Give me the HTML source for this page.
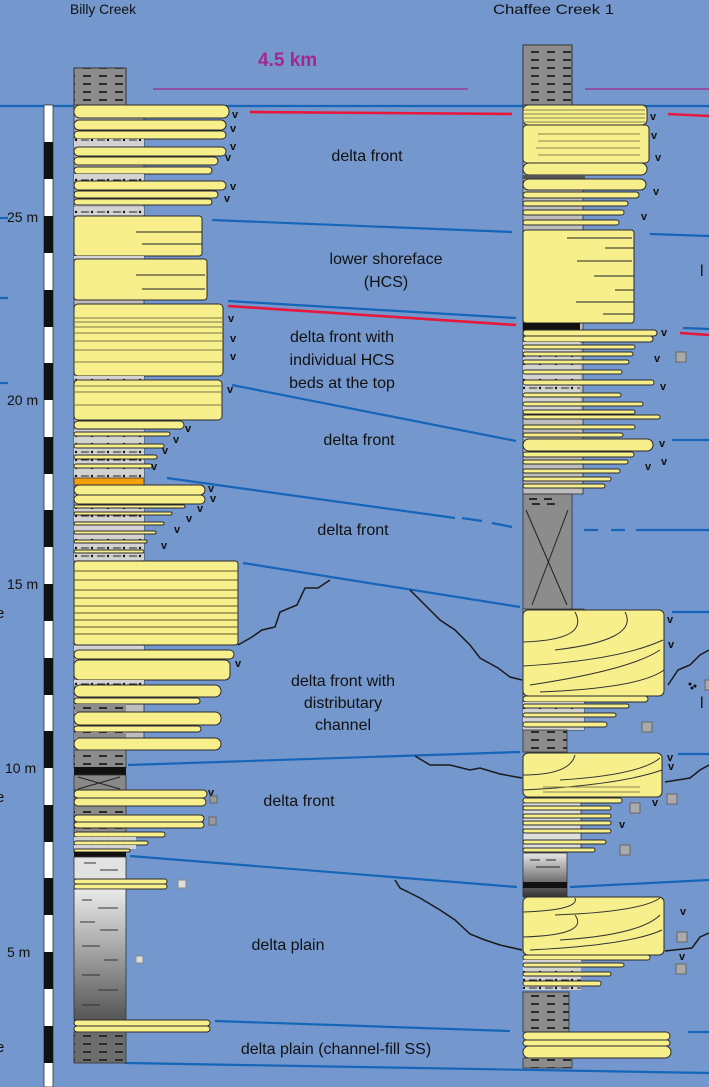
<!DOCTYPE html>
<html><head><meta charset="utf-8"><style>
html,body{margin:0;padding:0;background:#7497cd;}
svg{display:block}
text{font-family:"Liberation Sans",sans-serif;fill:#111}
.y{fill:#f7ef8c;stroke:#2a2a2a;stroke-width:1}
.b{stroke:#1565b8;stroke-width:2.2;fill:none}
.r{stroke:#e8173c;stroke-width:2.6;fill:none}
.k{stroke:#1a1a1a;stroke-width:1.5;fill:none}
.lbl{font-size:16px;text-anchor:middle}
.v{font-size:11px;font-weight:bold}
</style></head><body>
<svg width="709" height="1087" viewBox="0 0 709 1087" xmlns="http://www.w3.org/2000/svg">
<defs>
<pattern id="sh" width="16" height="8" patternUnits="userSpaceOnUse"><rect width="16" height="8" fill="#8c8c8c"/><line x1="3" y1="4" x2="11" y2="4" stroke="#111" stroke-width="1.6"/></pattern>
<pattern id="sl" width="16" height="8" patternUnits="userSpaceOnUse"><rect width="16" height="8" fill="#d2d2d2"/><line x1="1" y1="4" x2="9" y2="4" stroke="#222" stroke-width="1"/><circle cx="12" cy="4" r="1.2" fill="#111"/></pattern>
<linearGradient id="gg" x1="0" y1="0" x2="0" y2="1"><stop offset="0" stop-color="#eaeaea"/><stop offset="1" stop-color="#555"/></linearGradient>
<linearGradient id="gr2" x1="0" y1="0" x2="0" y2="1"><stop offset="0" stop-color="#e6e6e6"/><stop offset="1" stop-color="#333"/></linearGradient>
</defs>

<text x="70" y="14" font-size="14" textLength="66" lengthAdjust="spacingAndGlyphs">Billy Creek</text>
<text x="493" y="14" font-size="14" textLength="121" lengthAdjust="spacingAndGlyphs">Chaffee Creek 1</text>
<text x="258" y="66" font-size="19" font-weight="bold" style="fill:#a2288f">4.5 km</text>
<line x1="153" y1="89" x2="468" y2="89" stroke="#9a3a95" stroke-width="1.6"/>
<line x1="585" y1="89" x2="709" y2="89" stroke="#9a3a95" stroke-width="1.6"/>

<line class="b" x1="0" y1="106" x2="709" y2="106"/>
<line class="r" x1="250" y1="112" x2="512" y2="114"/>
<line class="r" x1="668" y1="114" x2="709" y2="116"/>
<line class="b" x1="212" y1="220" x2="512" y2="232"/>
<line class="b" x1="650" y1="234" x2="709" y2="236"/>
<line class="b" x1="0" y1="218" x2="8" y2="218"/>
<line class="b" x1="0" y1="298" x2="8" y2="298"/>
<line class="b" x1="0" y1="383" x2="8" y2="383"/>
<line class="b" x1="228" y1="301" x2="516" y2="318"/>
<line class="r" x1="228" y1="306" x2="516" y2="325"/>
<line class="b" x1="683" y1="328" x2="709" y2="329"/>
<line class="r" x1="680" y1="333" x2="709" y2="335"/>
<line class="b" x1="232" y1="385" x2="516" y2="441"/>
<line class="b" x1="672" y1="440" x2="709" y2="440"/>
<line class="b" x1="167" y1="478" x2="455" y2="518"/>
<line class="b" x1="462" y1="518" x2="482" y2="521" />
<line class="b" x1="492" y1="523" x2="512" y2="527"/>
<line class="b" x1="584" y1="530" x2="598" y2="530"/>
<line class="b" x1="611" y1="530" x2="625" y2="530"/>
<line class="b" x1="636" y1="530" x2="709" y2="530"/>
<line class="b" x1="243" y1="563" x2="520" y2="607"/>
<line class="b" x1="672" y1="612" x2="709" y2="612"/>
<line class="b" x1="128" y1="765" x2="520" y2="752"/>
<line class="b" x1="678" y1="754" x2="709" y2="754"/>
<line class="b" x1="130" y1="856" x2="517" y2="887"/>
<line class="b" x1="570" y1="887" x2="709" y2="880"/>
<line class="b" x1="215" y1="1021" x2="510" y2="1031"/>
<line class="b" x1="688" y1="1032" x2="709" y2="1032"/>
<line class="b" x1="125" y1="1063" x2="709" y2="1073"/>

<polyline class="k" points="238,645 252,637 262,630 275,627 280,612 297,605 305,588 318,588 330,580"/>
<polyline class="k" points="410,590 425,605 440,620 455,630 470,645 480,658 498,668 510,677 522,680"/>
<polyline class="k" points="668,685 678,670 690,665 700,655 709,650"/>
<polyline class="k" points="415,756 430,765 450,765 470,770 480,768 500,774 522,778"/>
<polyline class="k" points="665,782 690,778 700,770 709,765"/>
<polyline class="k" points="395,880 400,888 420,898 440,910 455,920 470,934 485,940 500,945 522,950"/>
<polyline class="k" points="665,951 692,948 700,937 709,933"/>

<rect x="44" y="105" width="9" height="982" fill="#fff" stroke="#333" stroke-width=".8"/>
<g fill="#111">
<rect x="44" y="142" width="9" height="37"/><rect x="44" y="216" width="9" height="37"/><rect x="44" y="290" width="9" height="37"/>
<rect x="44" y="363" width="9" height="37"/><rect x="44" y="437" width="9" height="37"/><rect x="44" y="510" width="9" height="37"/>
<rect x="44" y="584" width="9" height="37"/><rect x="44" y="658" width="9" height="37"/><rect x="44" y="731" width="9" height="37"/>
<rect x="44" y="805" width="9" height="37"/><rect x="44" y="878" width="9" height="37"/><rect x="44" y="952" width="9" height="37"/>
<rect x="44" y="1026" width="9" height="37"/>
</g>
<text x="7" y="222" font-size="14">25 m</text>
<text x="7" y="405" font-size="14">20 m</text>
<text x="7" y="589" font-size="14">15 m</text>
<text x="5" y="773" font-size="14">10 m</text>
<text x="7" y="957" font-size="14">5 m</text>
<text x="-4" y="618" font-size="15">e</text>
<text x="-4" y="802" font-size="15">e</text>
<text x="-4" y="1052" font-size="15">e</text>
<text x="700" y="276" font-size="16">l</text>
<text x="700" y="708" font-size="16">l</text>

<text class="lbl" x="367" y="161">delta front</text>
<text class="lbl" x="386" y="264">lower shoreface</text>
<text class="lbl" x="386" y="287">(HCS)</text>
<text class="lbl" x="342" y="342" font-size="15">delta front with</text>
<text class="lbl" x="342" y="365" font-size="15">individual HCS</text>
<text class="lbl" x="342" y="388" font-size="15">beds at the top</text>
<text class="lbl" x="359" y="445">delta front</text>
<text class="lbl" x="353" y="535">delta front</text>
<text class="lbl" x="343" y="686">delta front with</text>
<text class="lbl" x="343" y="708">distributary</text>
<text class="lbl" x="343" y="730">channel</text>
<text class="lbl" x="299" y="806">delta front</text>
<text class="lbl" x="288" y="950">delta plain</text>
<text class="lbl" x="336" y="1054">delta plain (channel-fill SS)</text>

<!-- LEFT COLUMN -->
<rect x="74" y="68" width="52" height="37" fill="url(#sh)" stroke="#333"/>
<rect x="74" y="105" width="70" height="645" fill="#bdbdbd" stroke="#333" stroke-width=".8"/>
<rect class="y" x="74" y="105" width="155" height="13" rx="6"/>
<rect class="y" x="74" y="120" width="152" height="10" rx="5"/>
<rect class="y" x="74" y="131" width="152" height="8" rx="4"/>
<rect x="74" y="139" width="70" height="8" fill="url(#sl)"/>
<rect class="y" x="74" y="147" width="152" height="9" rx="4.5"/>
<rect class="y" x="74" y="157" width="144" height="8" rx="4"/>
<rect class="y" x="74" y="167" width="138" height="7" rx="3.5"/>
<rect x="74" y="174" width="70" height="7" fill="url(#sl)"/>
<rect class="y" x="74" y="181" width="152" height="9" rx="4.5"/>
<rect class="y" x="74" y="191" width="144" height="7" rx="3.5"/>
<rect class="y" x="74" y="199" width="138" height="6" rx="3"/>
<rect x="74" y="207" width="70" height="8" fill="url(#sl)"/>
<rect class="y" x="74" y="216" width="128" height="40" rx="3"/>
<line x1="136" y1="232" x2="202" y2="232" stroke="#222"/><line x1="142" y1="244" x2="202" y2="244" stroke="#222"/>
<rect x="74" y="256" width="70" height="3" fill="url(#sl)"/>
<rect class="y" x="74" y="259" width="133" height="41" rx="3"/>
<line x1="136" y1="275" x2="205" y2="275" stroke="#222"/><line x1="142" y1="289" x2="205" y2="289" stroke="#222"/>
<rect class="y" x="74" y="304" width="149" height="72" rx="4"/>
<g stroke="#7a7448" stroke-width="1"><line x1="74" y1="318" x2="223" y2="318"/><line x1="74" y1="322" x2="223" y2="322"/><line x1="74" y1="327" x2="223" y2="327"/><line x1="74" y1="333" x2="223" y2="333"/><line x1="74" y1="341" x2="223" y2="341"/><line x1="74" y1="350" x2="223" y2="350"/><line x1="74" y1="362" x2="223" y2="362"/></g>
<rect x="74" y="376" width="70" height="4" fill="url(#sl)"/>
<rect class="y" x="74" y="380" width="148" height="40" rx="4"/>
<g stroke="#7a7448"><line x1="74" y1="386" x2="222" y2="386"/><line x1="74" y1="392" x2="222" y2="392"/><line x1="74" y1="405" x2="222" y2="405"/></g>
<rect class="y" x="74" y="421" width="110" height="8" rx="4"/>
<rect x="74" y="430" width="70" height="48" fill="url(#sl)"/>
<rect class="y" x="74" y="432" width="96" height="4" rx="2"/>
<rect class="y" x="74" y="444" width="90" height="4" rx="2"/>
<rect class="y" x="74" y="455" width="83" height="4" rx="2"/>
<rect class="y" x="74" y="464" width="78" height="4" rx="2"/>
<rect x="74" y="478" width="70" height="7" fill="#f5a00a" stroke="#333" stroke-width=".8"/>
<rect class="y" x="74" y="485" width="131" height="10" rx="5"/>
<rect class="y" x="74" y="495" width="131" height="9" rx="4.5"/>
<rect x="74" y="505" width="70" height="55" fill="url(#sl)"/>
<rect class="y" x="74" y="505" width="111" height="3" rx="1.5"/>
<rect class="y" x="74" y="512" width="98" height="3" rx="1.5"/>
<rect class="y" x="74" y="522" width="90" height="3" rx="1.5"/>
<rect class="y" x="74" y="531" width="82" height="3" rx="1.5"/>
<rect class="y" x="74" y="540" width="73" height="3" rx="1.5"/>
<rect class="y" x="74" y="550" width="70" height="3" rx="1.5"/>
<rect class="y" x="74" y="561" width="164" height="84" rx="3"/>
<g stroke="#5a5428" stroke-width=".9"><line x1="74" y1="571" x2="238" y2="571"/><line x1="74" y1="580" x2="238" y2="580"/><line x1="74" y1="590" x2="238" y2="590"/><line x1="74" y1="598" x2="238" y2="598"/><line x1="74" y1="606" x2="238" y2="606"/><line x1="74" y1="613" x2="238" y2="613"/><line x1="74" y1="620" x2="238" y2="620"/><line x1="74" y1="627" x2="238" y2="627"/><line x1="74" y1="634" x2="238" y2="634"/></g>
<rect x="74" y="646" width="70" height="5" fill="url(#sl)"/>
<rect class="y" x="74" y="650" width="160" height="9" rx="4.5"/>
<rect class="y" x="74" y="660" width="156" height="20" rx="5"/>
<rect x="74" y="680" width="70" height="5" fill="url(#sl)"/>
<rect class="y" x="74" y="685" width="147" height="12" rx="6"/>
<rect class="y" x="74" y="698" width="126" height="6" rx="3"/>
<rect x="74" y="704" width="52" height="8" fill="url(#sh)"/>
<rect class="y" x="74" y="712" width="147" height="13" rx="6"/>
<rect class="y" x="74" y="726" width="127" height="6" rx="3"/>
<rect x="74" y="732" width="52" height="6" fill="url(#sh)"/>
<rect class="y" x="74" y="738" width="147" height="12" rx="6"/>
<rect x="74" y="750" width="52" height="18" fill="url(#sh)" stroke="#333" stroke-width=".8"/>
<rect x="74" y="767" width="52" height="8" fill="#111"/>
<rect x="74" y="775" width="52" height="15" fill="#888" stroke="#333" stroke-width=".8"/>
<line x1="78" y1="777" x2="120" y2="789" stroke="#222"/><line x1="78" y1="789" x2="120" y2="777" stroke="#222"/>
<rect x="74" y="790" width="52" height="62" fill="url(#sh)" stroke="#333" stroke-width=".8"/>
<rect class="y" x="74" y="790" width="133" height="8" rx="4"/>
<rect class="y" x="74" y="798" width="132" height="8" rx="4"/>
<rect class="y" x="74" y="815" width="130" height="7" rx="3.5"/>
<rect class="y" x="74" y="822" width="130" height="6" rx="3"/>
<rect class="y" x="74" y="832" width="91" height="5" rx="2.5"/>
<rect x="74" y="837" width="62" height="4" fill="url(#sl)"/>
<rect class="y" x="74" y="841" width="74" height="4" rx="2"/>
<rect x="74" y="845" width="62" height="4" fill="url(#sl)"/>
<rect class="y" x="74" y="849" width="56" height="3" rx="1.5"/>
<rect x="74" y="852" width="52" height="5" fill="#111"/>
<rect x="74" y="857" width="52" height="22" fill="#e2e2e2" stroke="#333" stroke-width=".8"/>
<g stroke="#333"><line x1="84" y1="863" x2="96" y2="863"/><line x1="100" y1="870" x2="118" y2="870"/></g>
<rect class="y" x="74" y="879" width="93" height="5" rx="2.5"/>
<rect class="y" x="74" y="884" width="93" height="5" rx="2.5"/>
<rect x="74" y="889" width="52" height="131" fill="url(#gg)" stroke="#333" stroke-width=".8"/>
<g stroke="#333" stroke-width="1"><line x1="82" y1="900" x2="92" y2="900"/><line x1="98" y1="908" x2="118" y2="908"/><line x1="80" y1="922" x2="95" y2="922"/><line x1="100" y1="930" x2="118" y2="930"/><line x1="82" y1="946" x2="100" y2="946"/><line x1="104" y1="960" x2="118" y2="960"/><line x1="82" y1="975" x2="100" y2="975"/><line x1="98" y1="990" x2="118" y2="990"/><line x1="82" y1="1005" x2="100" y2="1005"/></g>
<rect class="y" x="74" y="1020" width="136" height="6" rx="3"/>
<rect class="y" x="74" y="1026" width="136" height="6" rx="3"/>
<rect x="74" y="1032" width="52" height="31" fill="url(#sh)" stroke="#333" stroke-width=".8"/>
<rect x="74" y="1032" width="52" height="31" fill="#333" opacity=".35"/>
<g><text x="232" y="118" class="v">v</text><text x="230" y="132" class="v">v</text><text x="230" y="150" class="v">v</text><text x="225" y="161" class="v">v</text><text x="230" y="190" class="v">v</text><text x="224" y="202" class="v">v</text>
<text x="228" y="322" class="v">v</text><text x="230" y="342" class="v">v</text><text x="230" y="360" class="v">v</text><text x="227" y="393" class="v">v</text>
<text x="185" y="432" class="v">v</text><text x="173" y="443" class="v">v</text><text x="162" y="454" class="v">v</text><text x="151" y="470" class="v">v</text>
<text x="208" y="492" class="v">v</text><text x="210" y="502" class="v">v</text><text x="197" y="512" class="v">v</text><text x="186" y="522" class="v">v</text><text x="174" y="533" class="v">v</text><text x="161" y="549" class="v">v</text><text x="235" y="667" class="v">v</text><text x="208" y="796" class="v">v</text></g>
<rect x="210" y="796" width="7" height="7" fill="#999" stroke="#666"/><rect x="209" y="817" width="7" height="8" fill="#999" stroke="#666"/>
<rect x="178" y="880" width="8" height="8" fill="#ddd" stroke="#888"/><rect x="136" y="956" width="7" height="7" fill="#ddd" stroke="#888"/>

<!-- RIGHT COLUMN -->
<rect x="523" y="45" width="49" height="60" fill="url(#sh)" stroke="#333"/>
<rect x="523" y="105" width="60" height="389" fill="#bdbdbd" stroke="#333" stroke-width=".8"/>
<rect x="523" y="609" width="61" height="121" fill="#bdbdbd" stroke="#333" stroke-width=".8"/>
<rect class="y" x="523" y="105" width="124" height="20" rx="5"/>
<g stroke="#8a8450"><line x1="523" y1="110" x2="645" y2="110"/><line x1="523" y1="114" x2="645" y2="114"/><line x1="523" y1="118" x2="645" y2="118"/><line x1="523" y1="122" x2="645" y2="122"/></g>
<rect class="y" x="523" y="125" width="126" height="38" rx="4"/>
<g stroke="#8a8450"><line x1="538" y1="134" x2="640" y2="134"/><line x1="538" y1="141" x2="640" y2="141"/><line x1="536" y1="148" x2="640" y2="148"/><line x1="538" y1="155" x2="640" y2="155"/></g>
<rect class="y" x="523" y="163" width="124" height="12" rx="6"/>
<rect x="523" y="175" width="62" height="4" fill="#555"/>
<rect class="y" x="523" y="179" width="123" height="11" rx="5.5"/>
<rect class="y" x="523" y="192" width="116" height="6" rx="3"/>
<rect class="y" x="523" y="201" width="105" height="5" rx="2.5"/>
<rect class="y" x="523" y="210" width="101" height="5" rx="2.5"/>
<rect class="y" x="523" y="220" width="96" height="5" rx="2.5"/>
<rect class="y" x="523" y="230" width="111" height="93" rx="3"/>
<g stroke="#222"><line x1="567" y1="238" x2="632" y2="238"/><line x1="605" y1="248" x2="634" y2="248"/><line x1="577" y1="261" x2="632" y2="261"/><line x1="594" y1="276" x2="634" y2="276"/><line x1="615" y1="290" x2="634" y2="290"/><line x1="576" y1="302" x2="634" y2="302"/><line x1="603" y1="314" x2="634" y2="314"/></g>
<rect x="523" y="323" width="57" height="7" fill="#111"/>
<rect class="y" x="523" y="330" width="134" height="6" rx="3"/>
<rect class="y" x="523" y="336" width="130" height="6" rx="3"/>
<rect x="523" y="342" width="57" height="70" fill="url(#sl)"/>
<rect class="y" x="523" y="345" width="112" height="4" rx="2"/>
<rect class="y" x="523" y="352" width="110" height="4" rx="2"/>
<rect class="y" x="523" y="360" width="106" height="4" rx="2"/>
<rect class="y" x="523" y="370" width="99" height="4" rx="2"/>
<rect class="y" x="523" y="380" width="131" height="5" rx="2.5"/>
<rect class="y" x="523" y="393" width="98" height="4" rx="2"/>
<rect class="y" x="523" y="402" width="120" height="4" rx="2"/>
<rect class="y" x="523" y="410" width="112" height="4" rx="2"/>
<rect class="y" x="523" y="415" width="137" height="4" rx="2"/>
<rect class="y" x="523" y="425" width="112" height="4" rx="2"/>
<rect class="y" x="523" y="433" width="100" height="4" rx="2"/>
<rect class="y" x="523" y="439" width="130" height="12" rx="6"/>
<rect class="y" x="523" y="452" width="111" height="5" rx="2.5"/>
<rect class="y" x="523" y="460" width="105" height="4" rx="2"/>
<rect class="y" x="523" y="469" width="97" height="4" rx="2"/>
<rect class="y" x="523" y="477" width="88" height="4" rx="2"/>
<rect class="y" x="523" y="484" width="82" height="4" rx="2"/>
<rect x="523" y="494" width="49" height="115" fill="#8c8c8c" stroke="#333" stroke-width=".8"/>
<g stroke="#111" stroke-width="1.6"><line x1="529" y1="499" x2="537" y2="499"/><line x1="544" y1="499" x2="552" y2="499"/><line x1="532" y1="504" x2="540" y2="504"/><line x1="547" y1="504" x2="555" y2="504"/></g>
<line x1="526" y1="510" x2="567" y2="605" stroke="#222"/><line x1="568" y1="510" x2="532" y2="605" stroke="#222"/>
<rect class="y" x="523" y="610" width="141" height="86" rx="5"/>
<g stroke="#333" fill="none"><path d="M523 642 Q590 640 575 612"/><path d="M555 650 Q640 640 625 612"/><path d="M523 666 Q620 660 663 640"/><path d="M530 685 Q630 670 660 650"/><path d="M540 692 Q640 688 664 670"/></g>
<rect class="y" x="523" y="696" width="125" height="6" rx="3"/>
<rect x="523" y="702" width="61" height="28" fill="url(#sl)"/>
<rect class="y" x="523" y="704" width="106" height="4" rx="2"/>
<rect class="y" x="523" y="713" width="93" height="4" rx="2"/>
<rect class="y" x="523" y="722" width="84" height="5" rx="2.5"/>
<rect x="523" y="730" width="44" height="22" fill="url(#sh)" stroke="#333" stroke-width=".8"/>
<rect class="y" x="523" y="753" width="139" height="44" rx="5"/>
<g stroke="#333" fill="none"><path d="M523 775 Q570 775 575 755"/><path d="M560 780 Q640 775 660 758"/><path d="M523 790 Q620 785 662 770"/></g>
<g stroke="#8a8450"><line x1="543" y1="787" x2="640" y2="787"/><line x1="543" y1="792" x2="640" y2="792"/></g>
<rect class="y" x="523" y="798" width="99" height="5" rx="2.5"/>
<rect x="523" y="803" width="58" height="48" fill="#dedede" stroke="#333" stroke-width=".8"/>
<rect class="y" x="523" y="806" width="88" height="4" rx="2"/>
<rect class="y" x="523" y="814" width="88" height="4" rx="2"/>
<rect class="y" x="523" y="821" width="88" height="4" rx="2"/>
<rect class="y" x="523" y="829" width="88" height="4" rx="2"/>
<rect class="y" x="523" y="840" width="83" height="4" rx="2"/>
<rect class="y" x="523" y="848" width="72" height="4" rx="2"/>
<rect x="523" y="853" width="44" height="44" fill="url(#gr2)" stroke="#333" stroke-width=".8"/>
<g stroke="#222"><line x1="530" y1="860" x2="540" y2="860"/><line x1="546" y1="860" x2="556" y2="860"/><line x1="536" y1="867" x2="560" y2="867"/></g>
<rect x="523" y="882" width="44" height="6" fill="#111"/>
<rect class="y" x="523" y="897" width="141" height="58" rx="5"/>
<g stroke="#333" fill="none"><path d="M523 912 Q580 910 575 898"/><path d="M555 915 Q640 912 660 898"/><path d="M523 937 Q590 935 575 915"/><path d="M560 940 Q640 935 660 915"/><path d="M530 950 Q630 945 662 930"/></g>
<rect class="y" x="523" y="955" width="127" height="5" rx="2.5"/>
<rect x="523" y="960" width="58" height="30" fill="url(#sl)"/>
<rect class="y" x="523" y="963" width="101" height="4" rx="2"/>
<rect class="y" x="523" y="972" width="88" height="4" rx="2"/>
<rect class="y" x="523" y="981" width="78" height="5" rx="2.5"/>
<rect x="523" y="992" width="46" height="40" fill="url(#sh)" stroke="#333" stroke-width=".8"/>
<rect class="y" x="523" y="1032" width="147" height="8" rx="4"/>
<rect class="y" x="523" y="1040" width="147" height="6" rx="3"/>
<rect class="y" x="523" y="1046" width="148" height="12" rx="6"/>
<rect x="523" y="1058" width="49" height="10" fill="url(#sh)" stroke="#333" stroke-width=".8"/>
<g><text x="650" y="120" class="v">v</text><text x="651" y="139" class="v">v</text><text x="655" y="161" class="v">v</text><text x="653" y="195" class="v">v</text><text x="641" y="220" class="v">v</text>
<text x="661" y="336" class="v">v</text><text x="654" y="362" class="v">v</text><text x="660" y="390" class="v">v</text><text x="659" y="447" class="v">v</text><text x="661" y="465" class="v">v</text><text x="645" y="470" class="v">v</text>
<text x="667" y="623" class="v">v</text><text x="668" y="648" class="v">v</text><text x="667" y="761" class="v">v</text><text x="668" y="770" class="v">v</text><text x="652" y="806" class="v">v</text><text x="619" y="828" class="v">v</text>
<text x="680" y="915" class="v">v</text><text x="679" y="960" class="v">v</text></g>
<rect x="676" y="352" width="10" height="10" fill="#aaa" stroke="#666"/>
<rect x="642" y="722" width="10" height="10" fill="#aaa" stroke="#666"/>
<rect x="667" y="794" width="10" height="10" fill="#aaa" stroke="#666"/>
<rect x="630" y="803" width="10" height="10" fill="#aaa" stroke="#666"/>
<rect x="620" y="845" width="10" height="10" fill="#aaa" stroke="#666"/>
<rect x="677" y="932" width="10" height="10" fill="#aaa" stroke="#666"/>
<rect x="676" y="964" width="10" height="10" fill="#aaa" stroke="#666"/>
<rect x="705" y="680" width="6" height="10" fill="#aaa" stroke="#666"/>
<circle cx="690" cy="684" r="1.5" fill="#111"/><circle cx="695" cy="686" r="1.5" fill="#111"/><circle cx="692" cy="688" r="1.5" fill="#111"/>
</svg>
</body></html>
